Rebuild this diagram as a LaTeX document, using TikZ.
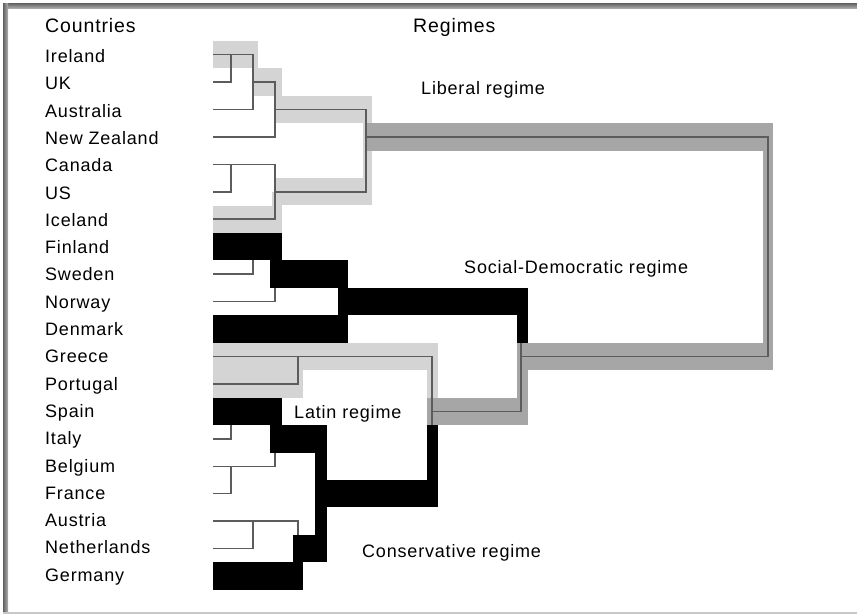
\documentclass[tikz,border=0pt]{standalone}
\usepackage{fontspec}
\setmainfont{Liberation Sans}[LetterSpace=4.5]
\definecolor{bandlight}{RGB}{212,212,212}
\definecolor{bandgrey}{RGB}{166,166,166}
\definecolor{treegrey}{RGB}{92,92,92}
\definecolor{framedark}{RGB}{96,96,96}
\definecolor{framelight}{RGB}{176,176,176}
% horizontal highlight band covering one row: style, x from, x to, row
\newcommand\rowband[4]{\fill[#1] (#2,{40.8+27.45*(#4)}) rectangle (#3,{68.2+27.45*(#4)});}
% vertical highlight band between two row centres: style, x from, x to, row from, row to
\newcommand\colband[5]{\fill[#1] (#2,{54.5+27.45*(#4)}) rectangle (#3,{54.5+27.45*(#5)});}
\begin{document}
\begin{tikzpicture}[x=1pt,y=-1pt,
  lightband/.style={fill=bandlight},
  greyband/.style={fill=bandgrey},
  darkband/.style={fill=black},
  treeline/.style={draw=treegrey,line width=1.5pt,line cap=rect},
  country/.style={anchor=base west,inner sep=0pt,font=\fontsize{18}{21}\selectfont},
  heading/.style={anchor=base west,inner sep=0pt,font=\fontsize{19.5}{23}\selectfont},
  regime/.style={anchor=base west,inner sep=0pt,font=\fontsize{18}{21}\selectfont}]

\useasboundingbox (0,0) rectangle (857,614);
\fill[white] (0,0) rectangle (857,614);

% frame
\shade[top color=framedark,bottom color=framelight] (3,3) rectangle (857,8.5);
\shade[left color=framedark,right color=framelight] (3,3) rectangle (8,612);
\fill[framelight!70!white] (3,611.5) rectangle (857,614);

% leaf and column coordinates of the dendrogram
\foreach \i in {0,...,19} \coordinate (L\i) at (214,{54.5+27.45*\i});
\coordinate (cA) at (231,0);
\coordinate (cB) at (253,0);
\coordinate (cC) at (275,0);
\coordinate (cD) at (298,0);
\coordinate (cG) at (321,0);
\coordinate (cE) at (345,0);
\coordinate (cF) at (366,0);
\coordinate (cH) at (432,0);
\coordinate (cK) at (521,0);
\coordinate (cM) at (768,0);

% light bands: liberal regime
\rowband{lightband}{213}{258}{0}
\rowband{lightband}{253}{282}{1}
\rowband{lightband}{275}{372}{2}
\colband{lightband}{363}{372}{2}{5}
\rowband{lightband}{275}{372}{5}
\colband{lightband}{272}{282}{5}{6}
\rowband{lightband}{213}{282}{6}
% light bands: latin regime
\rowband{lightband}{213}{438}{11}
\rowband{lightband}{213}{303}{12}
\colband{lightband}{427}{438}{11}{12.5}
% grey bands: upper links
\rowband{greyband}{367}{773}{3}
\colband{greyband}{763}{773}{3}{11}
\rowband{greyband}{517}{773}{11}
\colband{greyband}{517}{528}{11}{13}
\rowband{greyband}{427}{528}{13}

% dendrogram: liberal cluster
\draw[treeline] (L0) -- (L0 -| cB);
\draw[treeline] (L1) -- (L1 -| cA);
\draw[treeline] (L0 -| cA) -- (L1 -| cA);
\draw[treeline] (L2) -- (L2 -| cB);
\draw[treeline] (L0 -| cB) -- (L2 -| cB);
\draw[treeline] (L1 -| cB) -- (L1 -| cC);
\draw[treeline] (L3) -- (L3 -| cC);
\draw[treeline] (L1 -| cC) -- (L3 -| cC);
\draw[treeline] (L2 -| cC) -- (L2 -| cF);
\draw[treeline] (L4) -- (L4 -| cC);
\draw[treeline] (L5) -- (L5 -| cA);
\draw[treeline] (L4 -| cA) -- (L5 -| cA);
\draw[treeline] (L6) -- (L6 -| cC);
\draw[treeline] (L4 -| cC) -- (L6 -| cC);
\draw[treeline] (L5 -| cC) -- (L5 -| cF);
\draw[treeline] (L2 -| cF) -- (L5 -| cF);
\draw[treeline] (L3 -| cF) -- (L3 -| cM);
% social-democratic cluster
\draw[treeline] (L7) -- (L7 -| cC);
\draw[treeline] (L8) -- (L8 -| cB);
\draw[treeline] (L7 -| cB) -- (L8 -| cB);
\draw[treeline] (L9) -- (L9 -| cC);
\draw[treeline] (L7 -| cC) -- (L9 -| cC);
\draw[treeline] (L8 -| cC) -- (L8 -| cE);
\draw[treeline] (L10) -- (L10 -| cE);
\draw[treeline] (L8 -| cE) -- (L10 -| cE);
\draw[treeline] (L9 -| cE) -- (L9 -| cK);
% latin cluster
\draw[treeline] (L11) -- (L11 -| cH);
\draw[treeline] (L12) -- (L12 -| cD);
\draw[treeline] (L11 -| cD) -- (L12 -| cD);
% conservative cluster
\draw[treeline] (L13) -- (L13 -| cC);
\draw[treeline] (L14) -- (L14 -| cA);
\draw[treeline] (L13 -| cA) -- (L14 -| cA);
\draw[treeline] (L15) -- (L15 -| cC);
\draw[treeline] (L16) -- (L16 -| cA);
\draw[treeline] (L15 -| cA) -- (L16 -| cA);
\draw[treeline] (L13 -| cC) -- (L15 -| cC);
\draw[treeline] (L14 -| cC) -- (L14 -| cG);
\draw[treeline] (L17) -- (L17 -| cD);
\draw[treeline] (L18) -- (L18 -| cB);
\draw[treeline] (L17 -| cB) -- (L18 -| cB);
\draw[treeline] (L19) -- (L19 -| cD);
\draw[treeline] (L17 -| cD) -- (L19 -| cD);
\draw[treeline] (L18 -| cD) -- (L18 -| cG);
\draw[treeline] (L14 -| cG) -- (L18 -| cG);
\draw[treeline] (L16 -| cG) -- (L16 -| cH);
% upper links
\draw[treeline] (L11 -| cH) -- (L16 -| cH);
\draw[treeline] (L13 -| cH) -- (L13 -| cK);
\draw[treeline] (L9 -| cK) -- (L13 -| cK);
\draw[treeline] (L11 -| cK) -- (L11 -| cM);
\draw[treeline] (L3 -| cM) -- (L11 -| cM);

% black bands: social-democratic regime
\rowband{darkband}{213}{282}{7}
\rowband{darkband}{270}{348}{8}
\rowband{darkband}{338}{528}{9}
\rowband{darkband}{213}{348}{10}
\colband{darkband}{517}{528}{9}{10.5}
% black bands: conservative regime
\rowband{darkband}{213}{282}{13}
\rowband{darkband}{270}{327}{14}
\colband{darkband}{315}{327}{14}{18}
\rowband{darkband}{315}{438}{16}
\colband{darkband}{427}{438}{13.5}{16}
\rowband{darkband}{293}{327}{18}
\rowband{darkband}{213}{303}{19}

% headings
\node[heading] (hcountries) at (45,32) {Countries};
\node[heading] (hregimes) at (413,32) {Regimes};

% country names
\foreach \name [count=\k from 0] in {Ireland,UK,Australia,New Zealand,Canada,US,Iceland,Finland,Sweden,Norway,Denmark,Greece,Portugal,Spain,Italy,Belgium,France,Austria,Netherlands,Germany}
  \node[country] (n\k) at (45,{62.5+27.3*\k}) {\name};

% regime labels
\node[regime] (rlib) at (421,94) {Liberal regime};
\node[regime] (rsd) at (464,273) {Social-Democratic regime};
\node[regime] (rlat) at (294,418) {Latin regime};
\node[regime] (rcon) at (362,557) {Conservative regime};
\end{tikzpicture}
\end{document}
